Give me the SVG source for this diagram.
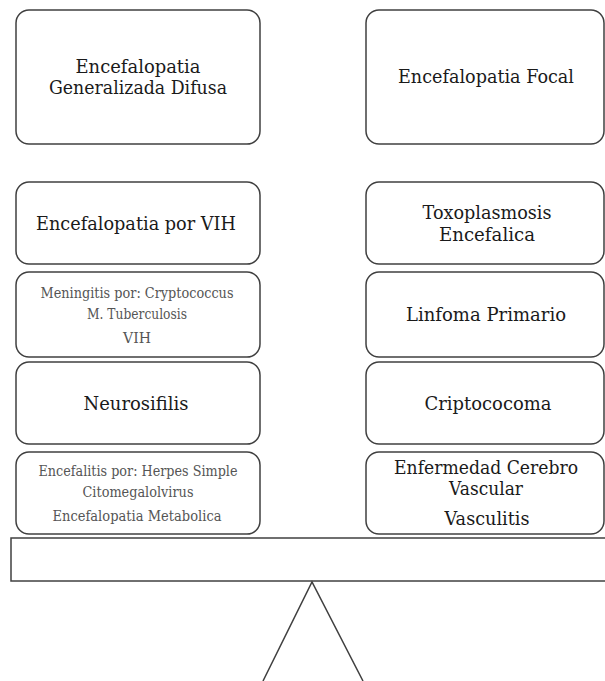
<svg xmlns="http://www.w3.org/2000/svg" width="605" height="681" viewBox="0 0 605 681">
<style>
.box{fill:#fff;stroke:#404040;stroke-width:1.5}
.t{fill:#1a1a1a;text-anchor:middle;font-size:19px}
.s{fill:#555;text-anchor:middle;font-size:14px}
.ln{fill:none;stroke:#404040;stroke-width:1.5}
</style>
<rect width="605" height="681" fill="#fff"/>
<g font-family="'DejaVu Serif', 'Liberation Serif', serif">
<g id="n1"><rect class="box" x="16" y="10" width="244" height="134" rx="13"/>
<text class="t" x="138" y="73" textLength="125" lengthAdjust="spacingAndGlyphs">Encefalopatia</text>
<text class="t" x="138" y="94" textLength="178" lengthAdjust="spacingAndGlyphs">Generalizada Difusa</text></g>
<g id="n2"><rect class="box" x="366" y="10" width="238" height="134" rx="13"/>
<text class="t" x="486" y="83" textLength="176" lengthAdjust="spacingAndGlyphs">Encefalopatia Focal</text></g>
<g id="n3"><rect class="box" x="16" y="182" width="244" height="82" rx="13"/>
<text class="t" x="136" y="230" textLength="200" lengthAdjust="spacingAndGlyphs">Encefalopatia por VIH</text></g>
<g id="n4"><rect class="box" x="366" y="182" width="238" height="82" rx="13"/>
<text class="t" x="487" y="219" textLength="129" lengthAdjust="spacingAndGlyphs">Toxoplasmosis</text>
<text class="t" x="487" y="241" textLength="96" lengthAdjust="spacingAndGlyphs">Encefalica</text></g>
<g id="n5"><rect class="box" x="16" y="272" width="244" height="85" rx="13"/>
<text class="s" x="137" y="298" textLength="193" lengthAdjust="spacingAndGlyphs">Meningitis por: Cryptococcus</text>
<text class="s" x="137" y="319" textLength="100" lengthAdjust="spacingAndGlyphs">M. Tuberculosis</text>
<text class="s" x="137" y="343" textLength="28" lengthAdjust="spacingAndGlyphs">VIH</text></g>
<g id="n6"><rect class="box" x="366" y="272" width="238" height="85" rx="13"/>
<text class="t" x="486" y="321" textLength="160" lengthAdjust="spacingAndGlyphs">Linfoma Primario</text></g>
<g id="n7"><rect class="box" x="16" y="362" width="244" height="82" rx="13"/>
<text class="t" x="136" y="410" textLength="105" lengthAdjust="spacingAndGlyphs">Neurosifilis</text></g>
<g id="n8"><rect class="box" x="366" y="362" width="238" height="82" rx="13"/>
<text class="t" x="488" y="410" textLength="127" lengthAdjust="spacingAndGlyphs">Criptococoma</text></g>
<g id="n9"><rect class="box" x="16" y="452" width="244" height="82" rx="13"/>
<text class="s" x="138" y="476" textLength="199" lengthAdjust="spacingAndGlyphs">Encefalitis por: Herpes Simple</text>
<text class="s" x="138" y="497" textLength="111" lengthAdjust="spacingAndGlyphs">Citomegalolvirus</text>
<text class="s" x="137" y="521" textLength="169" lengthAdjust="spacingAndGlyphs">Encefalopatia Metabolica</text></g>
<g id="n10"><rect class="box" x="366" y="452" width="238" height="82" rx="13"/>
<text class="t" x="486" y="474" textLength="184" lengthAdjust="spacingAndGlyphs">Enfermedad Cerebro</text>
<text class="t" x="486" y="495" textLength="74" lengthAdjust="spacingAndGlyphs">Vascular</text>
<text class="t" x="487" y="525" textLength="85" lengthAdjust="spacingAndGlyphs">Vasculitis</text></g>
</g>
<g id="bar"><rect class="box" x="11" y="538" width="600" height="43"/></g>
<g id="connectors"><polyline class="ln" points="263,681 312,582 363,681"/></g>
</svg>
